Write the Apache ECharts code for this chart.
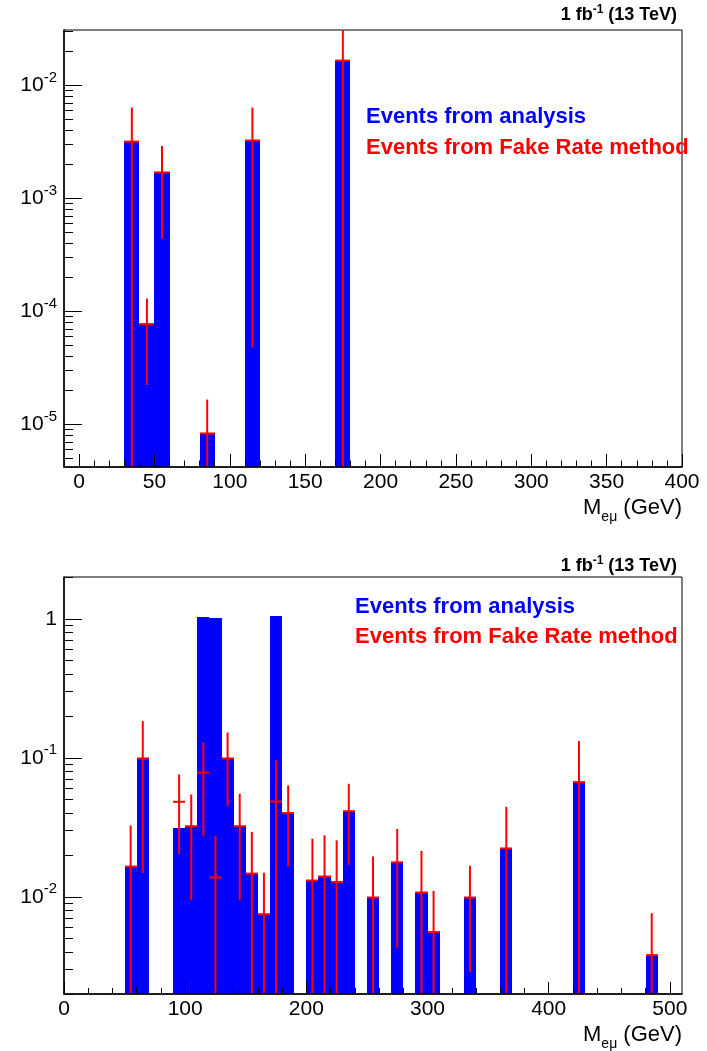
<!DOCTYPE html>
<html><head><meta charset="utf-8">
<script src="https://cdn.jsdelivr.net/npm/echarts@6/dist/echarts.min.js"></script>
<style>html,body{margin:0;padding:0;background:#fff}#c{width:707px;height:1051px}</style>
</head><body><div id="c"></div>
<script>
// ---------- data ----------
const BIN = 10; // GeV bin width

// top panel
const topCenters   = [35, 45, 55, 85, 115, 175];
const topAnalysis  = [3.19e-3, 7.73e-5, 1.70e-3, 8.32e-6, 3.26e-3, 1.66e-2];
const topFake      = [3.19e-3, 7.73e-5, 1.70e-3, 8.32e-6, 3.26e-3, 1.66e-2];
const topFakeUp    = [6.38e-3, 1.30e-4, 2.92e-3, 1.66e-5, 6.38e-3, 3.32e-2];
const topFakeLow   = [0, 2.24e-5, 4.43e-4, 0, 4.83e-5, 0];
const topXTicks    = [0, 50, 100, 150, 200, 250, 300, 350, 400];
const topYTicks    = [1e-5, 1e-4, 1e-3, 1e-2];

// bottom panel
const botCenters  = [55, 65, 95, 105, 115, 125, 135, 145, 155, 165, 175, 185, 205, 215, 225, 235, 255, 275, 295, 305, 335, 365, 425, 485];
const botAnalysis = [0.0165, 0.0992, 0.0315, 0.0322, 1.034, 1.017, 0.0997, 0.0322, 0.0147, 0.00753, 1.051, 0.0404, 0.0131, 0.0140, 0.0128, 0.0413, 0.00989, 0.0177, 0.01074, 0.00559, 0.00989, 0.0223, 0.0669, 0.00381];
const botFake     = [0.0165, 0.0990, 0.0483, 0.0322, 0.0782, 0.0138, 0.0990, 0.0322, 0.0147, 0.0075, 0.0485, 0.0401, 0.0131, 0.0140, 0.0128, 0.0413, 0.00989, 0.0177, 0.01074, 0.00559, 0.00989, 0.0223, 0.0669, 0.00381];
const botFakeUp   = [0.0326, 0.1834, 0.0760, 0.0545, 0.1288, 0.0274, 0.152, 0.0551, 0.0293, 0.0149, 0.0959, 0.0633, 0.0262, 0.0277, 0.0255, 0.0651, 0.01954, 0.0308, 0.0214, 0.01105, 0.01674, 0.0444, 0.1322, 0.00762];
const botFakeLow  = [0, 0.01483, 0.0203, 0.00947, 0.0272, 0, 0.0449, 0.00947, 0, 0, 0, 0.0165, 0, 0, 0, 0.0170, 0, 0.0043, 0, 0, 0.00287, 0, 0, 0];
const botXTicks   = [0, 100, 200, 300, 400, 500];
const botYTicks   = [1e-2, 1e-1, 1];

const legendAnalysis = 'Events from analysis';
const legendFake = 'Events from Fake Rate method';

// ---------- axis ranges ----------
const TOP = {xMin: -10, xMax: 400, yMin: 4.2e-6, yMax: 3.1e-2};
const BOT = {xMin: 0, xMax: 510, yMin: 2e-3, yMax: 2};

function range(a, b, s) { const r = []; for (let v = a; v <= b + 1e-9; v += s) r.push(v); return r; }
function logMinor(lo, hi) {
  const r = [];
  for (let e = -7; e <= 1; e++) for (let k = 2; k <= 9; k++) {
    const v = k * Math.pow(10, e);
    if (v >= lo && v <= hi) r.push(v);
  }
  return r;
}

const FONT = 'Liberation Sans, Arial, Helvetica, sans-serif';
const BLUE = '#0000ff', RED = '#ff0000';

function logLabel(v) {
  const e = Math.round(Math.log10(v));
  if (e === 0) return '{b|1}';
  return '{b|10}{s|' + e + '}';
}
const labelRich = {
  b: {fontSize: 21, fontFamily: FONT, color: '#000', lineHeight: 30},
  s: {fontSize: 15, fontFamily: FONT, color: '#000', verticalAlign: 'top', lineHeight: 15}
};

function barRender(centers, vals, yMin) {
  return function (params, api) {
    const i = params.dataIndex;
    const p1 = api.coord([centers[i] - BIN / 2, vals[i]]);
    const p2 = api.coord([centers[i] + BIN / 2, yMin]);
    const x1 = Math.round(p1[0]), x2 = Math.round(p2[0]);
    const y1 = Math.round(p1[1]), y2 = Math.round(p2[1]);
    return {type: 'rect', shape: {x: x1, y: y1, width: x2 - x1, height: y2 - y1},
      style: {fill: BLUE, stroke: 'none', lineWidth: 0}};
  };
}
function errRender(centers, vals, ups, lows, yMin, yMax) {
  return function (params, api) {
    const i = params.dataIndex;
    const c = centers[i];
    const lo = Math.max(lows[i], yMin), hi = Math.min(ups[i], yMax);
    const pT = api.coord([c, hi]), pB = api.coord([c, lo]);
    const pL = api.coord([c - BIN / 2, vals[i]]), pR = api.coord([c + BIN / 2, vals[i]]);
    return {type: 'group', children: [
      {type: 'line', shape: {x1: pT[0], y1: pT[1], x2: pB[0], y2: pB[1]}, style: {stroke: RED, lineWidth: 2}},
      {type: 'line', shape: {x1: Math.round(pL[0]), y1: pL[1], x2: Math.round(pR[0]), y2: pR[1]}, style: {stroke: RED, lineWidth: 2}}
    ]};
  };
}

const rects = [
  {left: 64, top: 30, width: 618, height: 437},
  {left: 64, top: 577, width: 618, height: 417}
];
// grids 0,1: main panels; grids 2,3: overlays carrying the minor ticks
const grids = rects.concat(rects).map(g => Object.assign({show: false, containLabel: false}, g));

function xMain(gi, R, majors, len) {
  return {gridIndex: gi, type: 'value', min: R.xMin, max: R.xMax, position: 'bottom', z: 5,
    axisLine: {show: true, onZero: false, lineStyle: {color: '#000', width: 1.5}},
    axisTick: {show: true, inside: true, length: len, customValues: majors, lineStyle: {color: '#000', width: 1}},
    axisLabel: {show: true, customValues: majors, margin: 5, fontSize: 21, fontFamily: FONT, color: '#000'},
    splitLine: {show: false}};
}
function xMinor(gi, R, minors, len) {
  return {gridIndex: gi, type: 'value', min: R.xMin, max: R.xMax, position: 'bottom', z: 5,
    axisLine: {show: false, onZero: false},
    axisTick: {show: true, inside: true, length: len, customValues: minors, lineStyle: {color: '#000', width: 1}},
    axisLabel: {show: false}, splitLine: {show: false}};
}
function yMain(gi, R, majors) {
  return {gridIndex: gi, type: 'log', logBase: 10, min: R.yMin, max: R.yMax, position: 'left', z: 5,
    axisLine: {show: true, onZero: false, lineStyle: {color: '#000', width: 1.5}},
    axisTick: {show: true, inside: true, length: 18, customValues: majors, lineStyle: {color: '#000', width: 1}},
    axisLabel: {show: true, customValues: majors, margin: 7, formatter: logLabel, rich: labelRich},
    splitLine: {show: false}, minorTick: {show: false}};
}
function yMinor(gi, R) {
  return {gridIndex: gi, type: 'log', logBase: 10, min: R.yMin, max: R.yMax, position: 'left', z: 5,
    axisLine: {show: false, onZero: false},
    axisTick: {show: true, inside: true, length: 9, customValues: logMinor(R.yMin, R.yMax), lineStyle: {color: '#000', width: 1}},
    axisLabel: {show: false}, splitLine: {show: false}};
}

function frame(r) {
  return {type: 'rect', shape: {x: r.left, y: r.top, width: r.width, height: r.height},
    style: {fill: 'none', stroke: '#000', lineWidth: 1}, z: 1};
}
function lumi(y) {
  return {type: 'text', x: 677, y: y, z: 10, style: {
    text: '{a|1 fb}{s|-1}{a| (13 TeV)}', align: 'right', verticalAlign: 'middle',
    rich: {a: {fontSize: 18, fontWeight: 'bold', fontFamily: FONT, fill: '#000', lineHeight: 22},
           s: {fontSize: 12, fontWeight: 'bold', fontFamily: FONT, fill: '#000', verticalAlign: 'top', lineHeight: 12}}}};
}
function xTitle(y) {
  return {type: 'text', x: 682, y: y, z: 10, style: {
    text: '{a|M}{s|eμ}{a| (GeV)}', align: 'right', verticalAlign: 'middle',
    rich: {a: {fontSize: 22, fontFamily: FONT, fill: '#000', lineHeight: 24},
           s: {fontSize: 14, fontFamily: FONT, fill: '#000', verticalAlign: 'bottom', lineHeight: 14, padding: [0, 0, -4, 0]}}}};
}
function legendText(x, y, txt, col) {
  return {type: 'text', x: x, y: y, z: 10, style: {text: txt, fill: col, fontSize: 22, fontWeight: 'bold',
    fontFamily: FONT, align: 'left', verticalAlign: 'middle'}};
}

const option = {
  animation: false,
  backgroundColor: '#fff',
  grid: grids,
  xAxis: [
    xMain(0, TOP, topXTicks, 13),
    xMain(1, BOT, botXTicks, 12),
    xMinor(2, TOP, range(-10, 400, 10), 6.5),
    xMinor(3, BOT, range(0, 510, 20), 6)
  ],
  yAxis: [yMain(0, TOP, topYTicks), yMain(1, BOT, botYTicks), yMinor(2, TOP), yMinor(3, BOT)],
  series: [
    {type: 'custom', xAxisIndex: 0, yAxisIndex: 0, z: 2, clip: true,
      data: topCenters.map((c, i) => [c, topAnalysis[i]]),
      renderItem: barRender(topCenters, topAnalysis, TOP.yMin)},
    {type: 'custom', xAxisIndex: 0, yAxisIndex: 0, z: 3, clip: true,
      data: topCenters.map((c, i) => [c, topFake[i]]),
      renderItem: errRender(topCenters, topFake, topFakeUp, topFakeLow, TOP.yMin, TOP.yMax)},
    {type: 'custom', xAxisIndex: 1, yAxisIndex: 1, z: 2, clip: true,
      data: botCenters.map((c, i) => [c, botAnalysis[i]]),
      renderItem: barRender(botCenters, botAnalysis, BOT.yMin)},
    {type: 'custom', xAxisIndex: 1, yAxisIndex: 1, z: 3, clip: true,
      data: botCenters.map((c, i) => [c, botFake[i]]),
      renderItem: errRender(botCenters, botFake, botFakeUp, botFakeLow, BOT.yMin, BOT.yMax)}
  ],
  graphic: [
    frame(rects[0]), frame(rects[1]),
    lumi(15), lumi(566),
    xTitle(508), xTitle(1035),
    legendText(366, 117, legendAnalysis, BLUE),
    legendText(366, 148, legendFake, RED),
    legendText(355, 607, legendAnalysis, BLUE),
    legendText(355, 637, legendFake, RED)
  ]
};

const chart = echarts.init(document.getElementById('c'), null, {renderer: 'canvas'});
chart.setOption(option);
</script>
</body></html>
